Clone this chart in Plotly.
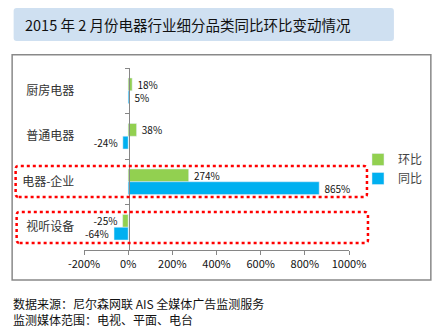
import plotly.graph_objects as go

# Category order (top to bottom) and month-over-month / year-over-year changes (%)
categories = ["厨房电器", "普通电器", "电器-企业", "视听设备"]
mom_change = [18, 38, 274, -25]    # 环比
yoy_change = [5, -24, 865, -64]    # 同比
x_ticks = [-200, 0, 200, 400, 600, 800, 1000]
x_tick_labels = [f"{v}%" for v in x_ticks]

title_text = "2015 年 2 月份电器行业细分品类同比环比变动情况"
source_lines = ["数据来源：尼尔森网联 AIS 全媒体广告监测服务", "监测媒体范围：电视、平面、电台"]

FONT = "Noto Sans CJK SC"
W_PX, H_PX = 448, 334
L, R, T, B = 83.5, 349.0, 68.0, 250.0   # plot area in pixels


def px(xp):
    return (xp - L) / (R - L)


def py(yp):
    return (B - yp) / (B - T)


def rounded_rect(x0, y0, x1, y1, r):
    # pixel box -> SVG path in paper coordinates with rounded corners
    rx = r / (R - L)
    ry = r / (B - T)
    a, b, c, d = px(x0), py(y1), px(x1), py(y0)
    return (f"M {a+rx},{b} L {c-rx},{b} Q {c},{b} {c},{b+ry} "
            f"L {c},{d-ry} Q {c},{d} {c-rx},{d} L {a+rx},{d} "
            f"Q {a},{d} {a},{d-ry} L {a},{b+ry} Q {a},{b} {a+rx},{b} Z")


def bar_labels(values):
    # a little breathing room between the bar end and its value label
    return [f" {v}%" if v >= 0 else f"{v}% " for v in values]


fig = go.Figure()
fig.add_trace(go.Bar(
    name="环比", y=categories, x=mom_change, orientation="h",
    marker=dict(color="#92d050"),
    text=bar_labels(mom_change), textposition="outside",
    constraintext="none", cliponaxis=False,
    textfont=dict(family=FONT, size=10, color="#111111"),
))
fig.add_trace(go.Bar(
    name="同比", y=categories, x=yoy_change, orientation="h",
    marker=dict(color="#00b0f0"),
    text=bar_labels(yoy_change), textposition="outside",
    constraintext="none", cliponaxis=False,
    textfont=dict(family=FONT, size=10, color="#111111"),
))

shapes = [
    # title banner
    dict(type="path", xref="paper", yref="paper", path=rounded_rect(13, 8, 394, 41, 3),
         fillcolor="#cfe0f1", line=dict(width=0), layer="below"),
    # chart frame
    dict(type="rect", xref="paper", yref="paper", x0=px(11.5), x1=px(431), y0=py(280), y1=py(54.7),
         line=dict(color="#898989", width=1.5), fillcolor="rgba(0,0,0,0)", layer="below"),
    # highlight boxes
    dict(type="path", xref="paper", yref="paper", path=rounded_rect(15, 166, 367, 197, 3),
         line=dict(color="#ff0000", width=2.5, dash="dot")),
    dict(type="path", xref="paper", yref="paper", path=rounded_rect(16, 212, 368, 243, 3),
         line=dict(color="#ff0000", width=2.5, dash="dot")),
]

annotations = [
    dict(text=title_text, xref="paper", yref="paper", x=px(22), y=py(24.5),
         xanchor="left", yanchor="middle", showarrow=False,
         font=dict(family=FONT, size=14.5, color="#111111")),
]
for i, line in enumerate(source_lines):
    annotations.append(dict(text=line, xref="paper", yref="paper", x=px(10), y=py(303 + 16 * i),
                            xanchor="left", yanchor="middle", showarrow=False,
                            font=dict(family=FONT, size=12, color="#111111")))

fig.update_layout(
    width=W_PX, height=H_PX,
    margin=dict(l=L, r=W_PX - R, t=T, b=H_PX - B, pad=0),
    paper_bgcolor="white", plot_bgcolor="white",
    barmode="group", bargap=0.44, bargroupgap=0,
    font=dict(family=FONT, size=11, color="#222222"),
    showlegend=True,
    legend=dict(x=px(358), y=py(145), xanchor="left", yanchor="top",
                font=dict(family=FONT, size=12, color="#444444"),
                itemwidth=30, tracegroupgap=0, bgcolor="rgba(0,0,0,0)"),
    shapes=shapes, annotations=annotations,
    xaxis=dict(range=[-200, 1000], tickvals=x_ticks, ticktext=x_tick_labels,
               showline=True, linecolor="#868686", linewidth=1,
               ticks="outside", ticklen=4, tickcolor="#868686",
               showgrid=False, zeroline=False,
               tickfont=dict(family=FONT, size=11, color="#111111")),
    yaxis=dict(type="category", categoryorder="array", categoryarray=categories,
               autorange="reversed", anchor="free", position=px(128.3),
               showline=True, linecolor="#868686", linewidth=1,
               ticks="outside", tickson="boundaries", ticklen=4, tickcolor="#868686",
               ticklabelstandoff=52, showgrid=False, zeroline=False,
               tickfont=dict(family=FONT, size=12, color="#333333")),
)

fig.write_html("out.html")
